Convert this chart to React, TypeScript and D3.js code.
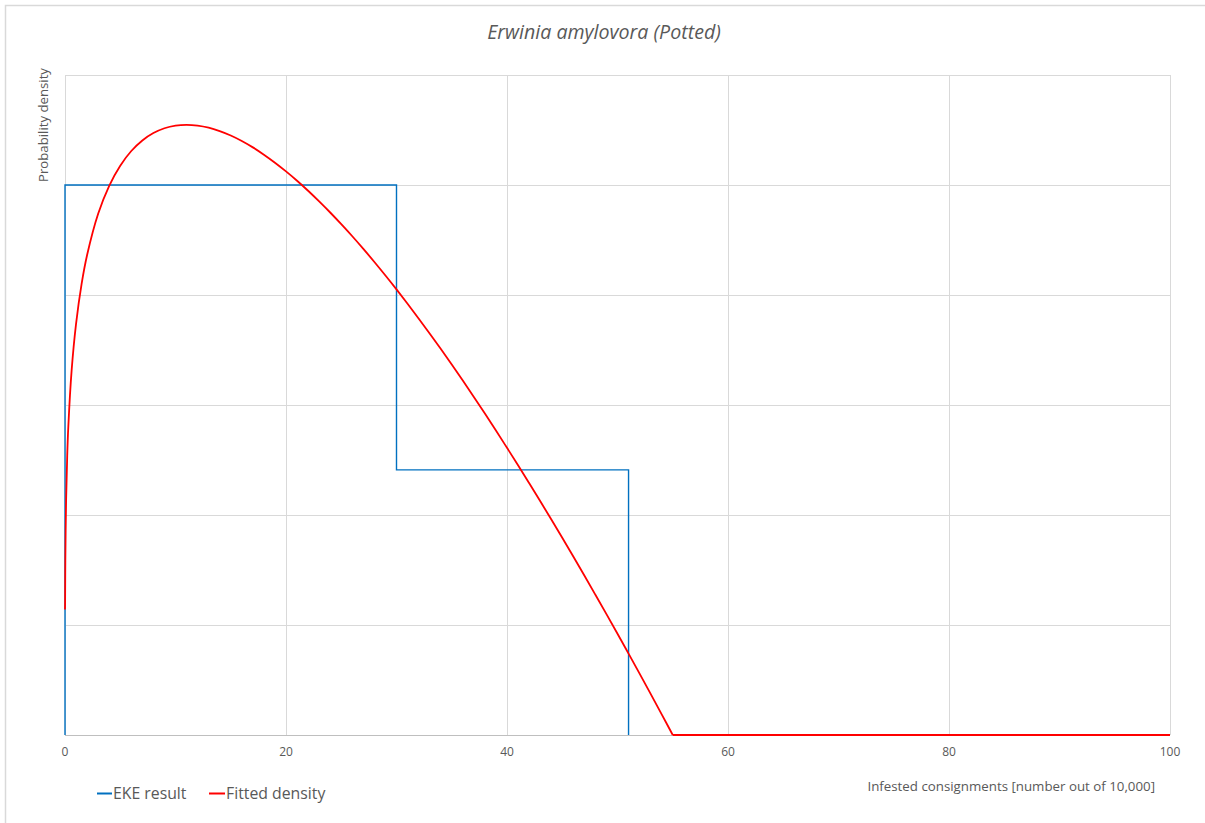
import React from "react";
import * as d3 from "d3";

const title = "Erwinia amylovora (Potted)";
const xTicks = [0, 20, 40, 60, 80, 100];
const yGrid = [0, 1, 2, 3, 4, 5, 6];

// EKE result (step histogram outline)
const ekeX = [0, 0, 30, 30, 51, 51];
const ekeY = [0, 5.0, 5.0, 2.41, 2.41, 0];

// Fitted density (curved part, then flat tail)
const fitX = [0, 0.01, 0.03, 0.1, 0.2, 0.3, 0.6, 1, 1.5, 2, 3, 4, 5, 6, 7, 8, 9, 10, 11, 12, 13, 14, 15, 16, 17, 18, 19, 20, 21, 22, 23, 24, 25, 26, 27, 28, 29, 30, 31, 32, 33, 34, 35, 36, 37, 38, 39, 40, 41, 42, 43, 44, 45, 46, 47, 48, 49, 50, 51, 52, 53, 54, 55];
const fitY = [1.14, 1.204, 1.584, 2.137, 2.537, 2.803, 3.315, 3.738, 4.099, 4.363, 4.738, 4.993, 5.176, 5.309, 5.405, 5.472, 5.516, 5.54, 5.547, 5.54, 5.521, 5.49, 5.45, 5.4, 5.342, 5.276, 5.203, 5.124, 5.039, 4.948, 4.851, 4.75, 4.644, 4.534, 4.419, 4.3, 4.177, 4.051, 3.921, 3.787, 3.65, 3.511, 3.368, 3.222, 3.073, 2.922, 2.768, 2.611, 2.453, 2.291, 2.127, 1.961, 1.793, 1.623, 1.45, 1.275, 1.099, 0.921, 0.74, 0.558, 0.374, 0.188, 0];
const tailX = [55, 100];
const tailY = [0, 0];

const W = 1205;
const H = 823;
const M = { left: 65, right: 1170, top: 75, bottom: 735 };
const FONT = "'Open Sans', 'Noto Sans', sans-serif";
const GRAY = "#595959";

export default function App() {
  const x = d3.scaleLinear().domain([0, 100]).range([M.left, M.right]);
  const y = d3.scaleLinear().domain([0, 6]).range([M.bottom, M.top]);

  const curve = d3
    .line<number>()
    .x((_, i) => x(fitX[i]))
    .y((d) => y(d))
    .curve(d3.curveCatmullRom.alpha(0.5));
  const tail = d3
    .line<number>()
    .x((_, i) => x(tailX[i]))
    .y((d) => y(d));
  const eke = d3
    .line<number>()
    .x((_, i) => x(ekeX[i]))
    .y((d) => y(d));

  return (
    <svg
      width={W}
      height={H}
      style={{ position: "absolute", left: 0, top: 0, background: "#fff" }}
      fontFamily={FONT}
    >
      <rect x={5.5} y={5.5} width={1400} height={1000} fill="#fff" stroke="#d9d9d9" strokeWidth={1.5} />
      {yGrid.map((v) => (
        <line key={"h" + v} x1={M.left} x2={M.right} y1={Math.round(y(v)) + 0.5} y2={Math.round(y(v)) + 0.5} stroke={v === 0 ? "#bfbfbf" : "#d9d9d9"} strokeWidth={1} />
      ))}
      {xTicks.map((v) => (
        <line key={"v" + v} x1={Math.round(x(v)) + 0.5} x2={Math.round(x(v)) + 0.5} y1={M.top} y2={M.bottom} stroke="#d9d9d9" strokeWidth={1} />
      ))}
      {xTicks.map((v) => (
        <text key={"t" + v} x={x(v)} y={756} textAnchor="middle" fontSize={12} fill={GRAY}>
          {v}
        </text>
      ))}
      <path d={eke(ekeY) || ""} fill="none" stroke="#0070c0" strokeWidth={1.4} />
      <path d={curve(fitY) || ""} fill="none" stroke="#ff0000" strokeWidth={1.8} strokeLinejoin="round" />
      <path d={tail(tailY) || ""} fill="none" stroke="#ff0000" strokeWidth={1.8} />
      <text x={604} y={39} textAnchor="middle" fontSize={19.6} fontStyle="italic" fill={GRAY}>
        {title}
      </text>
      <text transform="translate(48,125) rotate(-90)" textAnchor="middle" fontSize={13.2} fill={GRAY}>
        Probability density
      </text>
      <text x={1155} y={791} textAnchor="end" fontSize={13.3} fill={GRAY}>
        Infested consignments [number out of 10,000]
      </text>
      <line x1={97} x2={112} y1={793.5} y2={793.5} stroke="#0070c0" strokeWidth={2} />
      <text x={113} y={799} fontSize={15.8} fill={GRAY}>EKE result</text>
      <line x1={209} x2={225} y1={793.5} y2={793.5} stroke="#ff0000" strokeWidth={2} />
      <text x={226} y={799} fontSize={15.8} fill={GRAY}>Fitted density</text>
    </svg>
  );
}
